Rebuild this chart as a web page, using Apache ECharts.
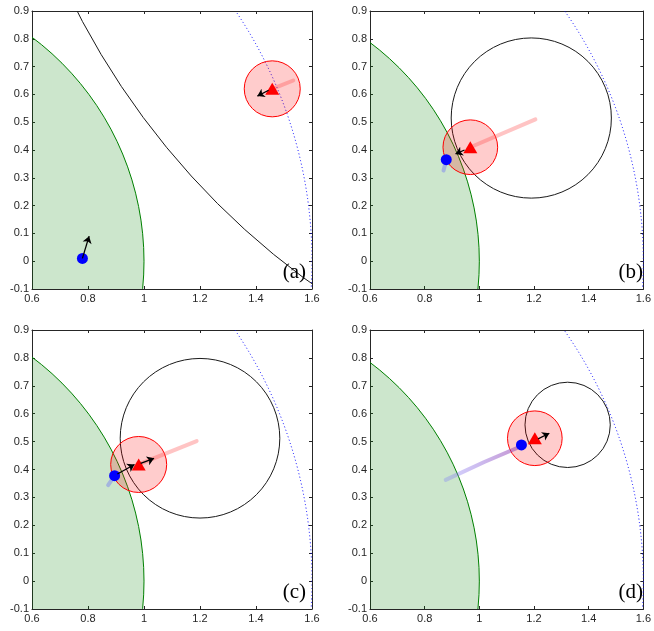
<!DOCTYPE html>
<html lang="en">
<head>
    <meta charset="UTF-8">
    <title>Pursuit snapshots</title>
    <script src="https://cdn.jsdelivr.net/npm/echarts@6/dist/echarts.min.js"></script>
    <style>
        html, body { margin: 0; padding: 0; background: #fff; }
    </style>
</head>
<body>
<div id="main" style="width: 654px;height:631px;"></div>

<script>
    // panel names
    const panelLabels = ['(a)', '(b)', '(c)', '(d)'];

    // circles: [centre x, centre y, radius]
    const targetRegion = [0, 0, 1];      // green disc
    const outerBoundary = [0, 0, 1.6];   // blue dotted circle
    const apolloniusCircles = [
        [3.21, 2.17, 2.755],
        [1.19, 0.515, 0.293],
        [1.2, 0.512, 0.285],
        [1.323, 0.56, 0.156]
    ];
    const captureRadius = 0.1;

    // pursuer (red triangle) and evader (blue dot) positions
    const pursuerPos = [[1.458, 0.62], [0.967, 0.41], [0.981, 0.418], [1.203, 0.512]];
    const evaderPos = [[0.78, 0.01], [0.879, 0.365], [0.895, 0.378], [1.154, 0.488]];

    // trails
    const pursuerTrails = [
        [[1.458, 0.62], [1.533, 0.65]],
        [[0.967, 0.41], [1.205, 0.51]],
        [[0.981, 0.418], [1.188, 0.502]],
        []
    ];
    const evaderTrails = [
        [],
        [[0.869, 0.326], [0.879, 0.365]],
        [[0.872, 0.344], [0.895, 0.378]],
        [[0.877, 0.363], [1.018, 0.427], [1.14, 0.478]]
    ];

    // velocity arrows (start, end)
    const pursuerArrows = [
        [[1.445, 0.615], [1.405, 0.594]],
        [[0.946, 0.40], [0.913, 0.386]],
        [[0.988, 0.422], [1.036, 0.44]],
        [[1.215, 0.51], [1.256, 0.53]]
    ];
    const evaderArrows = [
        [[0.78, 0.01], [0.804, 0.09]],
        null,
        [[0.905, 0.384], [0.966, 0.418]],
        null
    ];

    const grids = [
        {left: 32, top: 11, width: 280, height: 278},
        {left: 370, top: 11, width: 279, height: 278},
        {left: 32, top: 330, width: 280, height: 279},
        {left: 370, top: 330, width: 279, height: 279}
    ];

    const axisColor = '#262626';
    const fmt = v => String(Math.round(v * 10) / 10);

    function circleItem(style) {
        return function (params, api) {
            let c = api.coord([api.value(0), api.value(1)]);
            let r = api.size([api.value(2), api.value(2)]);
            return {
                type: 'circle',
                shape: {cx: c[0], cy: c[1], r: r[0]},
                style: style
            };
        };
    }

    let xAxes = [], yAxes = [], series = [], graphics = [];

    for (let i = 0; i < 4; i++) {
        let base = {
            gridIndex: i,
            type: 'value',
            axisLine: {show: true, onZero: false, lineStyle: {color: axisColor, width: 1}},
            axisTick: {show: true, inside: true, length: 3, lineStyle: {color: axisColor}},
            splitLine: {show: false}
        };
        let xb = Object.assign({}, base, {
            position: 'bottom', min: 0.6, max: 1.6, interval: 0.2,
            axisLabel: {fontFamily: 'Liberation Sans', fontSize: 11, color: axisColor, margin: 4, formatter: fmt}
        });
        let xt = Object.assign({}, base, {
            position: 'top', min: 0.6, max: 1.6, interval: 0.2, axisLabel: {show: false}
        });
        let yl = Object.assign({}, base, {
            position: 'left', min: -0.1, max: 0.9, interval: 0.1,
            axisLabel: {fontFamily: 'Liberation Sans', fontSize: 11, color: axisColor, margin: 3, formatter: fmt}
        });
        let yr = Object.assign({}, base, {
            position: 'right', min: -0.1, max: 0.9, interval: 0.1, axisLabel: {show: false}
        });
        xAxes.push(xb, xt);
        yAxes.push(yl, yr);

        let ax = {xAxisIndex: 2 * i, yAxisIndex: 2 * i};

        // green target disc
        series.push(Object.assign({
            type: 'custom', clip: true, silent: true, z: 1,
            data: [targetRegion],
            renderItem: circleItem({fill: 'rgba(0,128,0,0.2)', stroke: '#008000', lineWidth: 1})
        }, ax));
        // outer boundary (dotted)
        series.push(Object.assign({
            type: 'custom', clip: true, silent: true, z: 2,
            data: [outerBoundary],
            renderItem: circleItem({fill: 'none', stroke: '#0000ff', lineWidth: 1, lineDash: [1, 2.5]})
        }, ax));
        // black circle
        series.push(Object.assign({
            type: 'custom', clip: true, silent: true, z: 2,
            data: [apolloniusCircles[i]],
            renderItem: circleItem({fill: 'none', stroke: '#1a1a1a', lineWidth: 1})
        }, ax));
        // capture circle
        series.push(Object.assign({
            type: 'custom', clip: true, silent: true, z: 3,
            data: [[pursuerPos[i][0], pursuerPos[i][1], captureRadius]],
            renderItem: circleItem({fill: 'rgba(255,0,0,0.2)', stroke: '#ff0000', lineWidth: 1})
        }, ax));

        // trails
        if (pursuerTrails[i].length) {
            series.push(Object.assign({
                type: 'line', showSymbol: false, silent: true, z: 4,
                data: pursuerTrails[i],
                lineStyle: {color: 'rgba(255,60,60,0.3)', width: 4, cap: 'round'}
            }, ax));
        }
        if (evaderTrails[i].length) {
            let col = i === 3
                ? new echarts.graphic.LinearGradient(0, 0, 1, 0, [
                    {offset: 0, color: 'rgba(120,120,255,0.3)'},
                    {offset: 1, color: 'rgba(150,60,170,0.55)'}
                ])
                : 'rgba(90,90,255,0.35)';
            series.push(Object.assign({
                type: 'line', showSymbol: false, silent: true, z: 4,
                data: evaderTrails[i],
                lineStyle: {color: col, width: 4, cap: 'round'}
            }, ax));
        }

        // markers
        series.push(Object.assign({
            type: 'scatter', silent: true, z: 6,
            symbol: 'circle', symbolSize: 11,
            itemStyle: {color: '#0000ff', opacity: 1},
            data: [evaderPos[i]]
        }, ax));
        series.push(Object.assign({
            type: 'scatter', silent: true, z: 6,
            symbol: 'triangle', symbolSize: [14, 12],
            itemStyle: {color: '#ff0000', opacity: 1},
            data: [pursuerPos[i]]
        }, ax));

        // arrows
        let arrows = [pursuerArrows[i]];
        if (evaderArrows[i]) arrows.push(evaderArrows[i]);
        series.push(Object.assign({
            type: 'lines', coordinateSystem: 'cartesian2d', silent: true, z: 7,
            symbol: ['none', 'arrow'], symbolSize: 7,
            lineStyle: {color: '#000', width: 1.3, opacity: 1},
            data: arrows.map(a => ({coords: a}))
        }, ax));

        let g = grids[i];
        graphics.push({
            type: 'text',
            right: 654 - (g.left + g.width) + 6,
            top: g.top + g.height - 27,
            style: {
                text: panelLabels[i],
                font: '21px "Liberation Serif", "Times New Roman", serif',
                fill: '#000'
            },
            z: 10
        });
    }

    let myChart = echarts.init(document.getElementById('main'));
    myChart.setOption({
        animation: false,
        backgroundColor: '#fff',
        grid: grids,
        xAxis: xAxes,
        yAxis: yAxes,
        series: series,
        graphic: graphics
    });
</script>
</body>
</html>
